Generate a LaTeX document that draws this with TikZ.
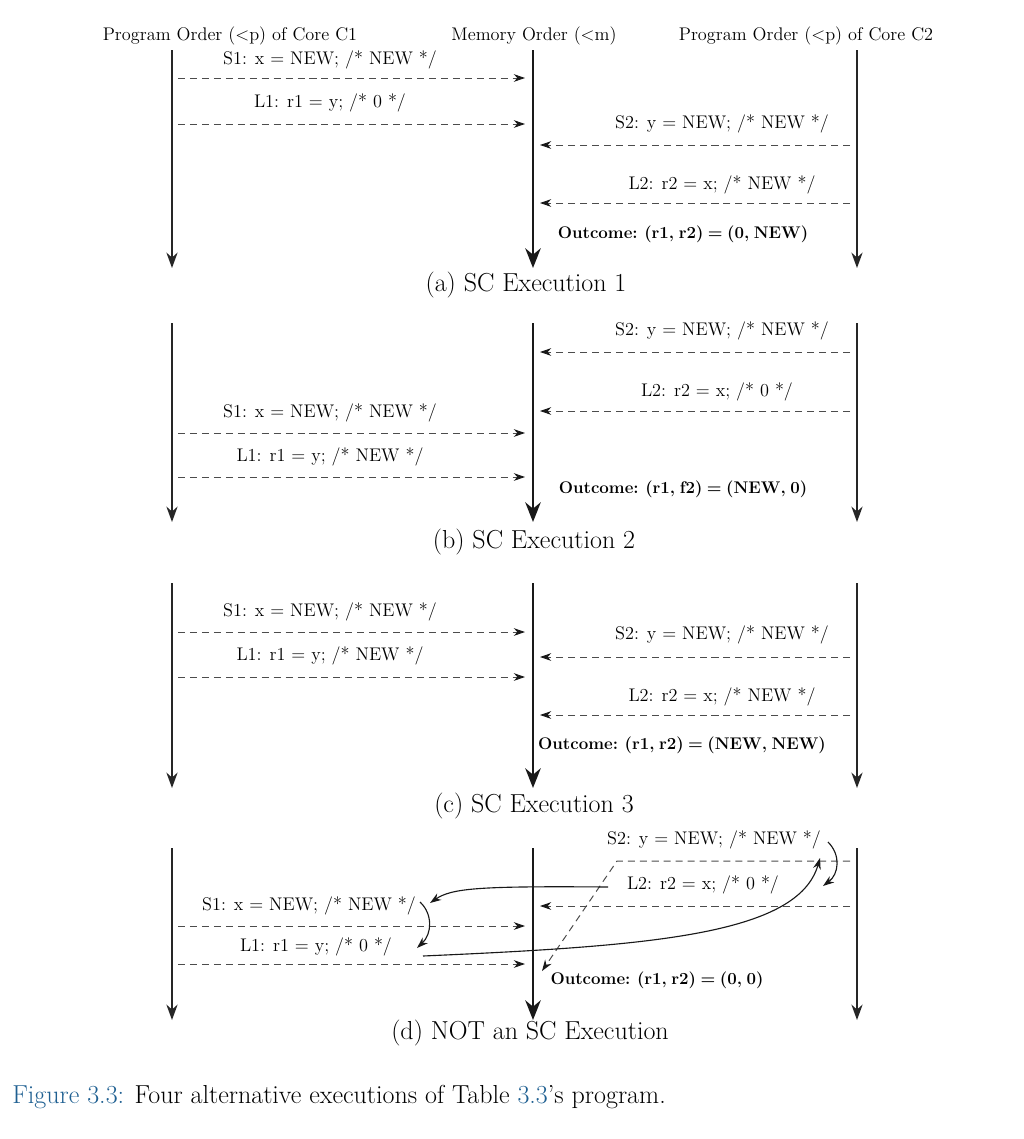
\documentclass[tikz,border=0pt]{standalone}
\usetikzlibrary{arrows.meta}
\definecolor{figblue}{RGB}{30,95,145}
\newcommand{\outcfont}{\bfseries\fontsize{12}{14}\selectfont\spaceskip=3.2pt plus 1pt\relax}

\begin{document}
\begin{tikzpicture}[
    x=0.025cm, y=-0.025cm,
    lane/.style={
        draw=black!85, line width=1pt,
        -{Stealth[length=11pt,width=8pt]},
    },
    memlane/.style={
        draw=black!90, line width=1.8pt,
        -{Stealth[length=14pt,width=11pt]},
    },
    msg/.style={
        draw=black!70, line width=0.7pt,
        dash pattern=on 5pt off 3.5pt,
        -{Stealth[length=8pt,width=5.5pt,black!90]},
    },
    rf/.style={
        draw=black!90, line width=0.8pt,
        -{Stealth[length=8pt,width=5.5pt]},
    },
    lbl/.style={font=\fontsize{13}{15}\selectfont, inner sep=1pt},
    outc/.style={font=\outcfont, inner sep=1pt},
    head/.style={font=\fontsize{13}{15}\selectfont, inner sep=1pt},
    subcap/.style={font=\fontsize{18.5}{22}\selectfont, inner sep=1pt},
]
\useasboundingbox (0,0) rectangle (1024,1139);

% column headers
\node[head] (hc1) at (230,36) {Program Order (<p) of Core C1};
\node[head] (hmem) at (534,36) {Memory Order (<m)};
\node[head] (hc2) at (806,36) {Program Order (<p) of Core C2};

% lanes of the four panels
\foreach \p/\top/\bot in {a/50/268, b/323/522, c/583/788, d/848/1020} {
    \coordinate (\p-c1t) at (172,\top);
    \coordinate (\p-c1b) at (172,\bot);
    \coordinate (\p-mt) at (533,\top);
    \coordinate (\p-mb) at (533,\bot);
    \coordinate (\p-c2t) at (857,\top);
    \coordinate (\p-c2b) at (857,\bot);
    \draw[lane] (\p-c1t) -- (\p-c1b);
    \draw[memlane] (\p-mt) -- (\p-mb);
    \draw[lane] (\p-c2t) -- (\p-c2b);
}

% (a) SC Execution 1
\path (178,78) coordinate (aS1s) (525,78) coordinate (aS1e);
\path (178,124) coordinate (aL1s) (525,124) coordinate (aL1e);
\path (850,145) coordinate (aS2s) (540,145) coordinate (aS2e);
\path (850,203) coordinate (aL2s) (540,203) coordinate (aL2e);
\draw[msg] (aS1s) -- (aS1e);
\draw[msg] (aL1s) -- (aL1e);
\draw[msg] (aS2s) -- (aS2e);
\draw[msg] (aL2s) -- (aL2e);
\node[lbl] (aS1) at (330,60) {S1: x = NEW; /* NEW */};
\node[lbl] (aL1) at (330,103) {L1: r1 = y; /* 0 */};
\node[lbl] (aS2) at (722,124) {S2: y = NEW; /* NEW */};
\node[lbl] (aL2) at (722,185) {L2: r2 = x; /* NEW */};
\node[outc] (aout) at (683,234) {Outcome: (r1, r2) = (0, NEW)};
\node[subcap] (acap) at (526,285) {(a) SC Execution 1};

% (b) SC Execution 2
\path (850,352) coordinate (bS2s) (540,352) coordinate (bS2e);
\path (850,411) coordinate (bL2s) (540,411) coordinate (bL2e);
\path (178,433) coordinate (bS1s) (525,433) coordinate (bS1e);
\path (178,477) coordinate (bL1s) (525,477) coordinate (bL1e);
\draw[msg] (bS2s) -- (bS2e);
\draw[msg] (bL2s) -- (bL2e);
\draw[msg] (bS1s) -- (bS1e);
\draw[msg] (bL1s) -- (bL1e);
\node[lbl] (bS2) at (722,331) {S2: y = NEW; /* NEW */};
\node[lbl] (bL2) at (717,392) {L2: r2 = x; /* 0 */};
\node[lbl] (bS1) at (330,413) {S1: x = NEW; /* NEW */};
\node[lbl] (bL1) at (330,457) {L1: r1 = y; /* NEW */};
\node[outc] (bout) at (683,489) {Outcome: (r1, f2) = (NEW, 0)};
\node[subcap] (bcap) at (534,542) {(b) SC Execution 2};

% (c) SC Execution 3
\path (178,632) coordinate (cS1s) (525,632) coordinate (cS1e);
\path (178,677) coordinate (cL1s) (525,677) coordinate (cL1e);
\path (850,657) coordinate (cS2s) (540,657) coordinate (cS2e);
\path (850,715) coordinate (cL2s) (540,715) coordinate (cL2e);
\draw[msg] (cS1s) -- (cS1e);
\draw[msg] (cL1s) -- (cL1e);
\draw[msg] (cS2s) -- (cS2e);
\draw[msg] (cL2s) -- (cL2e);
\node[lbl] (cS1) at (330,612) {S1: x = NEW; /* NEW */};
\node[lbl] (cL1) at (330,656) {L1: r1 = y; /* NEW */};
\node[lbl] (cS2) at (722,635) {S2: y = NEW; /* NEW */};
\node[lbl] (cL2) at (722,697) {L2: r2 = x; /* NEW */};
\node[outc] (cout) at (682,745) {Outcome: (r1, r2) = (NEW, NEW)};
\node[subcap] (ccap) at (534,806) {(c) SC Execution 3};

% (d) NOT an SC Execution
\path (850,861) coordinate (dS2s) (617,861) coordinate (dS2k) (542,971) coordinate (dS2e);
\path (850,906) coordinate (dL2s) (540,906) coordinate (dL2e);
\path (178,926) coordinate (dS1s) (525,926) coordinate (dS1e);
\path (178,964) coordinate (dL1s) (525,964) coordinate (dL1e);
\draw[msg] (dS2s) -- (dS2k) -- (dS2e);
\draw[msg] (dL2s) -- (dL2e);
\draw[msg] (dS1s) -- (dS1e);
\draw[msg] (dL1s) -- (dL1e);
\node[lbl] (dS2) at (714,840) {S2: y = NEW; /* NEW */};
\node[lbl] (dL2) at (703,885) {L2: r2 = x; /* 0 */};
\node[lbl] (dS1) at (309,906) {S1: x = NEW; /* NEW */};
\node[lbl] (dL1) at (316,947) {L1: r1 = y; /* 0 */};
\node[outc] (dout) at (657,980) {Outcome: (r1, r2) = (0, 0)};
\node[subcap] (dcap) at (530,1033) {(d) NOT an SC Execution};

% the cycle of orders
\path (608,887) coordinate (rfL2) (430,903) coordinate (rfS1);
\path (423,956) coordinate (rfL1) (820,858) coordinate (rfS2);
\draw[rf] (rfL2) .. controls (480,886) and (452,888) .. (rfS1);
\draw[rf] (rfL1) .. controls (650,946) and (798,935) .. (rfS2);
\path (420,902) coordinate (poS1) (417,948) coordinate (poL1);
\path (828,842) coordinate (poS2) (823,886) coordinate (poL2);
\draw[rf] (poS1) .. controls (433,914) and (432,934) .. (poL1);
\draw[rf] (poS2) .. controls (841,855) and (839,874) .. (poL2);

% figure caption
\node[anchor=west, font=\fontsize{18.5}{22}\selectfont, inner sep=0pt] (figcap) at (12,1097)
    {{\color{figblue}Figure 3.3:} Four alternative executions of Table {\color{figblue}3.3}'s program.};

\end{tikzpicture}
\end{document}
